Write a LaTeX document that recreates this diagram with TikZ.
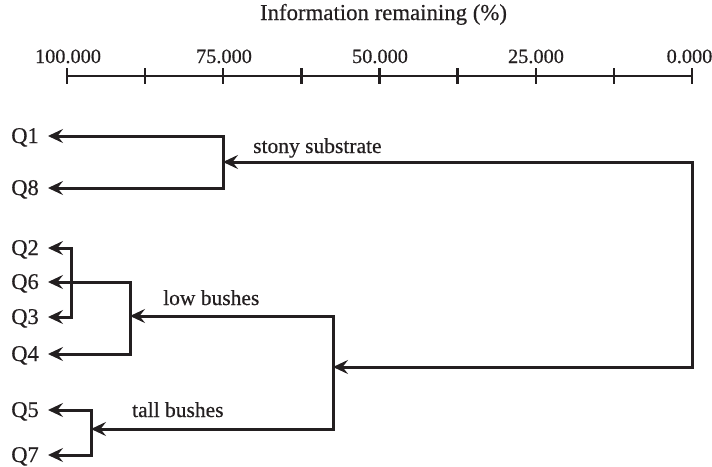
\documentclass[tikz,border=0pt]{standalone}
\usepackage{fontspec}
\setmainfont{Liberation Serif}[UprightFeatures={FakeBold=0.5}]
\usetikzlibrary{arrows.meta}
\definecolor{ink}{HTML}{231F20}
\begin{document}
\begin{tikzpicture}[x=1pt,y=-1pt,
  txt/.style={font=\fontsize{21.5}{24}\selectfont, text=ink, inner sep=0pt},
  num/.style={txt, font=\fontsize{20.3}{24}\selectfont, anchor=base},
  qlab/.style={txt, font=\fontsize{22.5}{24}\selectfont, anchor=east, inner xsep=9pt, text height=14pt, text depth=0pt},
  tip/.tip={Stealth[length=15pt,width=14pt,inset=5.5pt]},
  link/.style={draw=ink, line width=3pt},
  two/.style={link, tip-tip},
  axisline/.style={draw=ink, line width=2.4pt}]
\useasboundingbox (0,0) rectangle (712,466);
% title
\node[txt, font=\fontsize{22.8}{26}\selectfont, anchor=base] (title) at (383.5,20) {Information remaining (\%)};
% axis
\coordinate (t0) at (67,76);
\coordinate (t8) at (692,76);
\draw[axisline] (t0) -- (t8);
\foreach \i in {0,...,8} {
  \draw[axisline] ({67+\i*78.125},68) -- ({67+\i*78.125},84);
}
\node[num] (l100) at (68,63) {100.000};
\node[num] (l75) at (224,63) {75.000};
\node[num] (l50) at (380,63) {50.000};
\node[num] (l25) at (536,63) {25.000};
\node[num] (l0) at (689.5,63) {0.000};
% leaves
\node[qlab] (Q1) at (48,136) {Q1};
\node[qlab] (Q8) at (48,188) {Q8};
\node[qlab] (Q2) at (48,248) {Q2};
\node[qlab] (Q6) at (48,282) {Q6};
\node[qlab] (Q3) at (48,317) {Q3};
\node[qlab] (Q4) at (48,354) {Q4};
\node[qlab] (Q5) at (48,410) {Q5};
\node[qlab] (Q7) at (48,455) {Q7};
% junctions
\coordinate (j18) at (223,162);
\coordinate (j23) at (71,282);
\coordinate (j64) at (130,316);
\coordinate (j57) at (91,429);
\coordinate (jmid) at (333,367);
\coordinate (rc) at (692,162);
% brackets
\draw[two] (Q1.east) -| (j18) |- (Q8.east);
\draw[two] (Q2.east) -| (j23) |- (Q3.east);
\draw[two] (Q6.east) -| (j64) |- (Q4.east);
\draw[two] (Q5.east) -| (j57) |- (Q7.east);
% inner links
\draw[two] (j64) -| (jmid) |- (j57);
\draw[two] (jmid) -| (rc) -- (j18);
% labels
\node[txt, anchor=base west] (stony) at (253,153) {stony substrate};
\node[txt, anchor=base west] (low) at (163,305) {low bushes};
\node[txt, anchor=base west] (tall) at (132,417) {tall bushes};
\end{tikzpicture}
\end{document}
